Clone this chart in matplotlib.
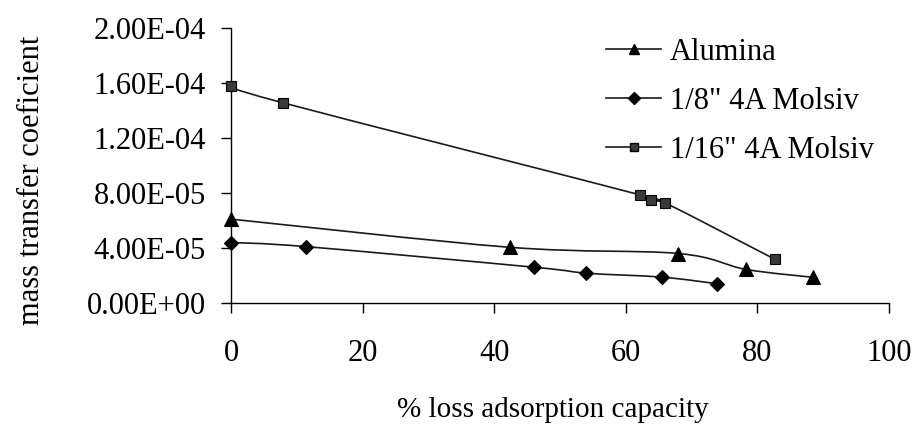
import numpy as np
import matplotlib.pyplot as plt
from matplotlib.path import Path
from matplotlib.patches import PathPatch
from matplotlib.lines import Line2D

plt.rcParams['font.family'] = ['Liberation Serif', 'DejaVu Serif']
plt.rcParams['font.size'] = 22

# data
alumina_x = [0, 42.4, 68.0, 78.2, 88.4]
alumina_y = [6.1e-05, 4.05e-05, 3.6e-05, 2.45e-05, 1.87e-05]

mol8_x = [0, 11.4, 46.1, 54.0, 65.5, 73.9]
mol8_y = [4.4e-05, 4.1e-05, 2.6e-05, 2.17e-05, 1.88e-05, 1.4e-05]

mol16_x = [0, 7.9, 62.2, 63.9, 66.0, 82.7]
mol16_y = [1.578e-04, 1.456e-04, 7.86e-05, 7.5e-05, 7.28e-05, 3.17e-05]

labels = ['Alumina', '1/8" 4A Molsiv', '1/16" 4A Molsiv']
markers = ['^', 'D', 's']
msizes = [10, 7.5, 7.5]
mfaces = ['black', 'black', '#3a3a3a']


def smooth_path(xs, ys):
    # excel-like smoothed line: cubic bezier with catmull-rom control points
    p = np.column_stack([xs, ys]).astype(float)
    n = len(p)
    verts = [p[0]]
    codes = [Path.MOVETO]
    for i in range(n - 1):
        p0 = p[i - 1] if i > 0 else p[i]
        p3 = p[i + 2] if i + 2 < n else p[i + 1]
        c1 = p[i] + (p[i + 1] - p0) / 6.0
        c2 = p[i + 1] - (p3 - p[i]) / 6.0
        verts += [c1, c2, p[i + 1]]
        codes += [Path.CURVE4] * 3
    return Path(verts, codes)


fig = plt.figure(figsize=(9.16, 4.28), dpi=100)
ax = fig.add_axes([231 / 916, 1 - 303 / 428, 658 / 916, 275 / 428])

series = [(alumina_x, alumina_y), (mol8_x, mol8_y), (mol16_x, mol16_y)]
handles = []
for (xs, ys), m, ms, fc, lab in zip(series, markers, msizes, mfaces, labels):
    ax.add_patch(PathPatch(smooth_path(xs, ys), facecolor='none', edgecolor='#1a1a1a',
                           linewidth=1.2, zorder=2))
    ax.plot(xs, ys, linestyle='none', marker=m, markersize=ms, markerfacecolor=fc,
            markeredgecolor='black', markeredgewidth=0.8, zorder=3, clip_on=False)
    handles.append(Line2D([], [], color='#1a1a1a', linewidth=1.2, marker=m,
                          markersize=ms * 0.75, markerfacecolor=fc, markeredgecolor='black'))

ax.set_xlim(0, 100)
ax.set_ylim(0, 2.0e-04)
ax.set_xticks([0, 20, 40, 60, 80, 100])
yt = [0, 4e-05, 8e-05, 1.2e-04, 1.6e-04, 2.0e-04]
ax.set_yticks(yt)
ax.set_yticklabels(['0.00E+00', '4.00E-05', '8.00E-05', '1.20E-04', '1.60E-04', '2.00E-04'])

for s in ['top', 'right']:
    ax.spines[s].set_visible(False)
for s in ['left', 'bottom']:
    ax.spines[s].set_linewidth(1.0)
ax.tick_params(direction='out', length=7, width=1.0, labelsize=22)
ax.tick_params(axis='x', pad=19)
ax.tick_params(axis='y', pad=11)

fig.text(553 / 916, 1 - 410 / 428, '% loss adsorption capacity', fontsize=21,
         ha='center', va='center')
fig.text(32 / 916, 1 - 180 / 428, 'mass transfer coeficient', fontsize=22,
         rotation=90, ha='center', va='center')

fig.legend(handles, labels, loc='upper left', bbox_to_anchor=(606 / 916, 1 - 38 / 428),
           frameon=False, fontsize=22, handlelength=1.8, handletextpad=0.3,
           labelspacing=0.65, borderpad=0, borderaxespad=0)

fig.savefig('out.png', dpi=100)
